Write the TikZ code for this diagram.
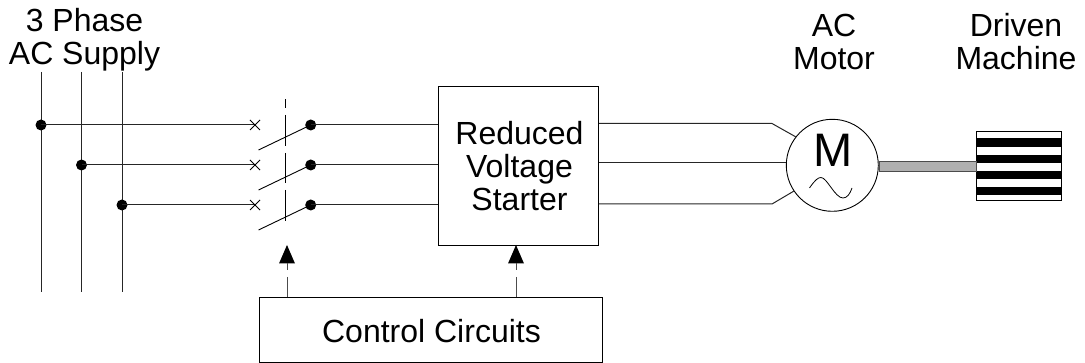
\documentclass[tikz,border=0pt]{standalone}
\usepackage{fontspec}
\setmainfont{Liberation Sans}
\usetikzlibrary{arrows.meta}
\tikzset{
  wire/.style={line width=1pt,black!85},
  lbl/.style={font=\fontsize{32}{33}\selectfont,align=center,inner sep=0pt},
  term/.style={circle,fill=black,inner sep=0pt,minimum size=11pt},
  blockbox/.style={draw=black,line width=.9pt,fill=white,inner sep=0pt},
  bar/.style={fill=black,draw=none},
  cross/.style={line width=.8pt,black},
  ctrl/.style={line width=1pt,black!70},
  head/.style={fill=black,draw=none}
}
\begin{document}
\begin{tikzpicture}[x=1pt,y=-1pt]
\useasboundingbox (0,0) rectangle (1085,363);
% supply buses
\foreach \n/\x in {a/41,b/81.5,c/122}{
  \coordinate (top\n) at (\x,72);
  \coordinate (bot\n) at (\x,292);
  \draw[wire] (top\n) -- (bot\n);
}
% blocks
\node[blockbox,minimum width=160pt,minimum height=159pt] (starter) at (518.5,165.5) {};
\node[lbl] (startertext) at (519.5,166) {Reduced\\Voltage\\Starter};
\node[blockbox,minimum width=343pt,minimum height=65pt] (control) at (430.5,329.5) {};
\node[lbl] (controltext) at (431.5,331) {Control Circuits};
% three phases
\foreach \n/\y/\x in {a/125/41,b/165/81.5,c/205/122}{
  \node[term] (bus\n) at (\x,\y) {};
  \coordinate (cross\n) at (255,\y);
  \node[term] (sw\n) at (310.7,\y) {};
  \coordinate (in\n) at (starter.west |- sw\n);
  \coordinate (blade\n) at (258.5,\y+25);
  \draw[wire] (bus\n.center) -- (cross\n);
  \draw[cross] (250,\y-5) -- (260,\y+5) (250,\y+5) -- (260,\y-5);
  \draw[wire] (sw\n.center) -- (in\n);
  \draw[cross,line width=.9pt] (blade\n) -- (sw\n.center);
}
% ganged link
\coordinate (linktop) at (285.3,99.5);
\coordinate (linkbot) at (285.3,221);
\draw[line width=.9pt,black] (linktop) -- (285.3,108) (285.3,115) -- (285.3,146) (285.3,153) -- (285.3,183) (285.3,190) -- (linkbot);
% control arrows
\coordinate (tipa) at (287,245);
\coordinate (basea) at (287,263.5);
\coordinate (tipb) at (516,245);
\coordinate (baseb) at (516,263.5);
\fill[head] (tipa) -- (279,263.5) -- (295,263.5) -- cycle;
\fill[head] (tipb) -- (508,263.5) -- (524,263.5) -- cycle;
\draw[ctrl] (basea) -- (287,270) (287,277) -- (287,297);
\draw[ctrl] (baseb) -- (516,270) (516,277) -- (516,297);
% motor
\node[circle,draw=black,line width=.9pt,fill=white,minimum size=92pt,inner sep=0pt] (motor) at (832.3,165.3) {};
\node[font=\fontsize{47}{47}\selectfont,inner sep=0pt] (mtext) at (833.5,150) {M};
\draw[line width=.8pt,black] (809.5,188) .. controls (815,180) and (818,177.5) .. (821,177.5) .. controls (827,177.5) and (835,198) .. (843,198) .. controls (847,198) and (850,194) .. (852,188);
% motor feeds
\coordinate (outa) at (starter.east |- 0,123.5);
\coordinate (outb) at (starter.east |- 0,163);
\coordinate (outc) at (starter.east |- 0,204);
\draw[wire] (outa) -- (772,123.5) -- (796,137);
\draw[wire] (outb) -- (motor.west |- outb);
\draw[wire] (outc) -- (772,204) -- (794,191);
% driven machine
\node[draw=black,line width=1pt,fill=white,minimum width=85pt,minimum height=69pt,inner sep=0pt] (machine) at (1018.5,166.5) {};
\foreach \a/\b in {138.5/147,155/163,171/179,187/195}{
  \fill[bar] (976,\a) rectangle (1061,\b);
}
% shaft
\node[draw=black!70,line width=1pt,fill=black!31,minimum width=97pt,minimum height=10pt,inner sep=0pt] (shaft) at (927.5,167) {};
% titles
\node[lbl] (supply) at (84.5,40) {3 Phase\\AC Supply};
\node[lbl] (motorlabel) at (834,42) {AC\\Motor};
\node[lbl] (machinelabel) at (1016,42) {Driven\\Machine};
\end{tikzpicture}
\end{document}
